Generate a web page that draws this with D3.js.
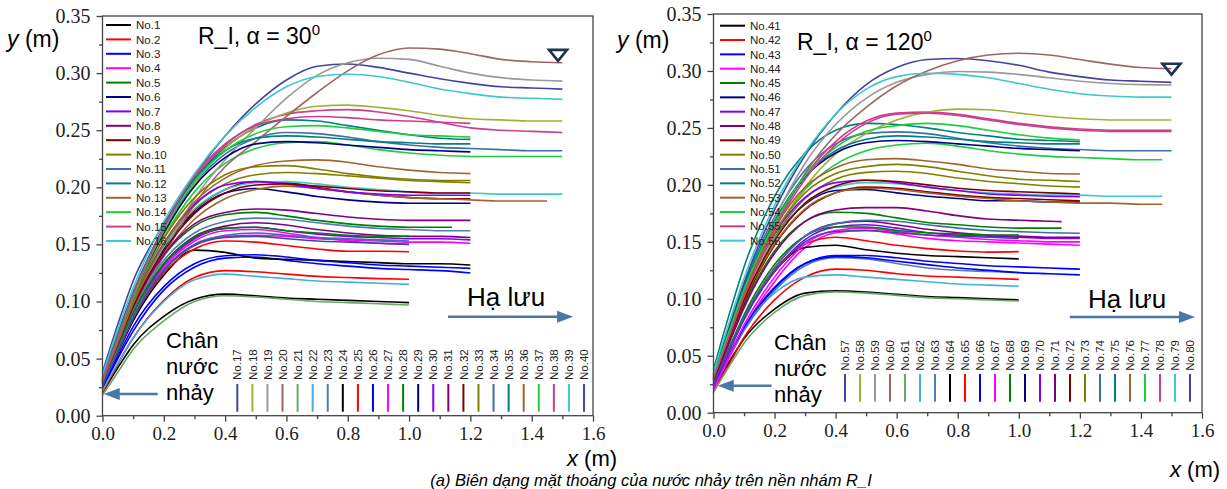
<!DOCTYPE html>
<html>
<head>
<meta charset="utf-8">
<script src="https://cdn.jsdelivr.net/npm/d3@7"></script>
<style>
  body { margin: 0; background: #fff; }
  svg { display: block; }
</style>
</head>
<body>
<svg id="chart" width="1227" height="489" font-family="'Liberation Sans', Arial, sans-serif"></svg>
<script>
// x stations (m) at which the profiles were read; a profile stops at its own end
const xGrid = [0, 0.05, 0.1, 0.2, 0.3, 0.4, 0.5, 0.6, 0.7, 0.8, 0.9, 1.0, 1.1, 1.2, 1.3, 1.4, 1.5]
const xTicks = [0, 0.2, 0.4, 0.6, 0.8, 1.0, 1.2, 1.4, 1.6]
const xMinor = [0.1, 0.3, 0.5, 0.7, 0.9, 1.1, 1.3, 1.5]
const yTicks = [0, 0.05, 0.1, 0.15, 0.2, 0.25, 0.3, 0.35]
const yMinor = [0.025, 0.075, 0.125, 0.175, 0.225, 0.275, 0.325]

// Origin style colour cycle (23 colours, No.24 starts again with black)
const colors = ['#000000', '#ff0000', '#0000ff', '#ff00ff', '#008000', '#000080', '#8000ff', '#800080',
	'#800000', '#808000', '#3d6fa8', '#008080', '#a0652a', '#1fcc3f', '#cc3d8f', '#3cc8cc',
	'#4444a0', '#a3b038', '#999999', '#9e6666', '#6aa86a', '#3fb0e0', '#4f7fb5']

// R_I, alpha = 30 : No.1 .. No.40
const namesA = d3.range(1, 41).map(i => 'No.' + i)
const endsA = [1.0, 1.0, 1.2, 1.0, 1.14, 1.2, 1.2, 1.2, 1.2, 1.2, 1.5, 1.2, 1.45, 1.5, 1.5, 1.5, 1.5, 1.5, 1.5, 1.5,
	1.0, 1.0, 1.2, 1.2, 1.0, 1.2, 1.2, 1.0, 1.2, 1.2, 1.2, 1.2, 1.2, 1.0, 1.2, 1.2, 1.2, 1.2, 1.5, 1.0]
const profilesA = [
	[.020, .042, .062, .087, .102, .1065, .105, .103, .102, .101, .100, .099],
	[.020, .045, .068, .101, .121, .127, .126, .124, .122, .121, .120, .1195],
	[.024, .050, .074, .110, .130, .138, .139, .136, .133, .131, .129, .128, .127, .125],
	[.027, .058, .088, .130, .153, .162, .163, .160, .156, .153, .151, .150],
	[.029, .062, .094, .140, .166, .176, .178, .175, .171, .168, .166, .165, .165, .165],
	[.030, .064, .097, .146, .178, .195, .199, .196, .192, .189, .187, .186, .186, .186],
	[.028, .059, .089, .132, .155, .164, .165, .162, .159, .157, .156, .155, .155, .154],
	[.028, .060, .090, .133, .157, .166, .169, .167, .163, .160, .158, .157, .157, .156],
	[.030, .064, .097, .147, .180, .198, .205, .204, .200, .196, .193, .191, .190, .190],
	[.030, .064, .097, .148, .184, .203, .211, .213, .212, .210, .208, .206, .205, .204],
	[.033, .070, .106, .162, .203, .229, .243, .248, .247, .244, .240, .237, .235, .234, .233, .232, .232],
	[.034, .072, .108, .165, .207, .235, .252, .259, .258, .254, .250, .246, .243, .242],
	[.029, .061, .093, .140, .172, .190, .198, .201, .199, .196, .193, .191, .190, .189, .188, .188, .188],
	[.031, .066, .101, .156, .196, .221, .234, .239, .240, .237, .233, .230, .228, .227, .227, .227, .227],
	[.032, .068, .104, .163, .208, .237, .255, .264, .267, .268, .266, .262, .257, .252, .250, .249, .248],
	[.031, .065, .098, .148, .181, .198, .204, .205, .203, .200, .198, .196, .195, .195, .194, .194, .194],
	[.038, .080, .118, .168, .210, .245, .273, .294, .306, .308, .305, .300, .295, .291, .288, .287, .286],
	[.031, .066, .101, .158, .203, .234, .253, .265, .271, .272, .270, .267, .263, .260, .259, .258, .258],
	[.028, .059, .090, .143, .190, .224, .252, .278, .298, .309, .313, .312, .306, .300, .296, .294, .293],
	[.028, .058, .088, .140, .185, .218, .240, .262, .283, .302, .316, .322, .321, .317, .312, .310, .309],
	[.018, .038, .058, .083, .100, .105, .104, .102, .100, .099, .098, .097],
	[.022, .046, .068, .100, .119, .124, .122, .120, .118, .117, .116, .115],
	[.029, .061, .092, .136, .160, .170, .173, .172, .169, .166, .164, .163, .162, .162],
	[.026, .055, .083, .123, .145, .143, .138, .137, .136, .135, .134, .133, .133, .132],
	[.026, .056, .085, .125, .146, .153, .152, .149, .146, .144, .144, .1436],
	[.025, .052, .078, .113, .133, .140, .141, .139, .136, .134, .132, .131, .130, .129],
	[.027, .057, .086, .128, .150, .157, .158, .157, .155, .154, .153, .152, .152, .151],
	[.028, .060, .090, .133, .156, .164, .165, .162, .160, .158, .157, .157],
	[.032, .068, .104, .160, .201, .226, .238, .240, .239, .237, .235, .233, .232, .231],
	[.031, .066, .100, .151, .185, .202, .205, .203, .199, .196, .194, .193, .193, .193],
	[.030, .063, .095, .141, .168, .178, .181, .180, .177, .174, .172, .171, .171, .171],
	[.030, .063, .096, .144, .177, .195, .202, .203, .201, .199, .197, .196, .195, .195],
	[.031, .066, .101, .155, .191, .211, .218, .219, .216, .212, .209, .207, .206, .206],
	[.027, .058, .087, .128, .150, .158, .160, .158, .156, .155, .154, .153],
	[.033, .070, .107, .165, .207, .232, .243, .245, .244, .242, .240, .239, .238, .238],
	[.030, .064, .098, .150, .187, .208, .219, .223, .224, .222, .218, .215, .213, .212],
	[.032, .068, .104, .162, .205, .232, .247, .253, .254, .252, .249, .246, .245, .244],
	[.032, .069, .106, .165, .210, .238, .254, .260, .262, .261, .259, .258, .257, .256],
	[.036, .076, .112, .170, .212, .245, .270, .288, .297, .299, .297, .292, .286, .282, .279, .278, .277],
	[.026, .056, .085, .127, .149, .156, .157, .155, .153, .152, .151, .150],
]

// R_I, alpha = 120 : No.41 .. No.80
const namesB = d3.range(41, 81).map(i => 'No.' + i)
const endsB = [1.0, 1.0, 1.2, 1.2, 1.14, 1.2, 1.2, 1.2, 1.2, 1.2, 1.5, 1.2, 1.47, 1.47, 1.5, 1.47, 1.5, 1.5, 1.5, 1.5,
	1.0, 1.0, 1.0, 1.0, 1.0, 1.2, 1.2, 1.0, 1.2, 1.2, 1.14, 1.2, 1.2, 1.2, 1.2, 1.2, 1.2, 1.5, 1.5, 1.0]
const profilesB = [
	[.020, .044, .065, .091, .105, .107, .106, .104, .102, .101, .100, .099],
	[.018, .042, .066, .099, .119, .126, .125, .122, .120, .119, .118, .117],
	[.022, .049, .074, .109, .131, .138, .138, .136, .133, .131, .129, .128, .127, .126],
	[.020, .047, .074, .115, .145, .158, .160, .157, .153, .151, .150, .149, .148, .147],
	[.028, .062, .094, .142, .168, .176, .175, .171, .167, .165, .163, .162, .162, .162],
	[.030, .066, .101, .153, .183, .195, .196, .193, .190, .188, .186, .186, .185, .185],
	[.024, .053, .082, .124, .152, .163, .165, .162, .158, .156, .155, .154, .153, .153],
	[.025, .055, .084, .127, .155, .166, .168, .165, .161, .158, .156, .155, .154, .154],
	[.028, .062, .096, .147, .178, .193, .198, .197, .194, .191, .189, .188, .187, .186],
	[.030, .066, .101, .154, .188, .205, .211, .212, .210, .206, .203, .201, .199, .198],
	[.034, .074, .113, .172, .213, .236, .245, .2465, .245, .241, .237, .234, .232, .231, .230, .230, .230],
	[.038, .085, .128, .190, .228, .248, .254, .253, .250, .246, .243, .240, .239, .238],
	[.029, .064, .098, .148, .179, .193, .197, .196, .193, .190, .188, .186, .185, .184, .184, .183, .183],
	[.030, .067, .103, .158, .196, .218, .230, .235, .2365, .234, .230, .227, .225, .224, .223, .222, .222],
	[.031, .068, .105, .164, .208, .238, .256, .263, .264, .262, .258, .254, .251, .249, .248, .248, .248],
	[.030, .066, .101, .152, .184, .198, .202, .201, .198, .195, .193, .192, .191, .191, .190, .190, .190],
	[.034, .074, .114, .178, .226, .262, .288, .303, .310, .311, .309, .305, .299, .295, .292, .291, .290],
	[.030, .065, .100, .156, .198, .227, .245, .257, .264, .2665, .266, .263, .260, .258, .257, .257, .257],
	[.032, .070, .108, .170, .219, .253, .276, .290, .297, .2995, .299, .297, .294, .291, .289, .288, .2877],
	[.030, .066, .102, .162, .210, .244, .268, .287, .300, .309, .314, .3155, .314, .310, .306, .303, .302],
	[.018, .040, .061, .088, .103, .106, .105, .103, .101, .100, .099, .098],
	[.022, .050, .075, .105, .119, .121, .119, .117, .115, .113, .112, .111],
	[.022, .048, .072, .107, .129, .136, .135, .131, .127, .125, .124, .123],
	[.025, .055, .084, .124, .145, .147, .143, .140, .138, .137, .136, .135],
	[.024, .054, .083, .125, .148, .154, .151, .147, .144, .142, .141, .1414],
	[.023, .050, .075, .110, .131, .137, .136, .133, .130, .127, .125, .123, .122, .121],
	[.021, .049, .077, .119, .148, .160, .162, .159, .156, .154, .152, .151, .150, .150],
	[.025, .056, .086, .130, .155, .163, .163, .160, .158, .157, .156, .156],
	[.033, .072, .110, .167, .207, .228, .237, .239, .238, .236, .234, .232, .231, .230],
	[.031, .068, .104, .157, .189, .202, .204, .202, .198, .195, .192, .191, .190, .1896],
	[.027, .060, .092, .140, .168, .178, .180, .180, .177, .173, .170, .169, .168, .1677],
	[.029, .064, .099, .151, .184, .199, .204, .203, .200, .197, .195, .194, .193, .192],
	[.031, .068, .104, .158, .193, .210, .216, .218, .216, .212, .208, .205, .204, .203],
	[.025, .055, .084, .127, .155, .166, .169, .168, .165, .162, .160, .159, .158, .1575],
	[.033, .072, .110, .168, .208, .230, .240, .243, .242, .240, .238, .237, .236, .236],
	[.032, .070, .107, .162, .198, .215, .222, .223, .221, .218, .214, .212, .210, .2096],
	[.032, .070, .108, .166, .208, .233, .247, .252, .254, .252, .248, .244, .241, .2394],
	[.030, .066, .102, .161, .205, .235, .254, .262, .263, .261, .257, .253, .250, .248, .247, .247, .247],
	[.036, .078, .118, .182, .228, .262, .284, .295, .298, .297, .294, .289, .284, .280, .278, .277, .277],
	[.024, .054, .082, .124, .150, .159, .160, .158, .156, .155, .154, .153],
]

const svg = d3.select('#chart')
const serif = "'Liberation Serif', 'Times New Roman', 'DejaVu Serif', serif"

function drawPanel(p) {
	const g = svg.append('g')
	const x = d3.scaleLinear().domain([0, 1.6]).range([p.left, p.right])
	const y = d3.scaleLinear().domain([0, 0.35]).range([p.bottom, p.top])
	const line = d3.line().x(d => x(d[0])).y(d => y(d[1])).curve(d3.curveMonotoneX)

	// profiles
	p.profiles.forEach((ys, i) => {
		const end = p.ends[i]
		const xs = xGrid.filter(v => v < end - 1e-9).concat([end])
		g.append('path')
			.attr('d', line(xs.map((v, k) => [v, ys[k]])))
			.attr('fill', 'none')
			.attr('stroke', colors[i % colors.length])
			.attr('stroke-width', 1.6)
	})

	// frame
	g.append('rect')
		.attr('x', p.left).attr('y', p.top)
		.attr('width', p.right - p.left).attr('height', p.bottom - p.top)
		.attr('fill', 'none').attr('stroke', '#444').attr('stroke-width', 1.3)

	// axes
	const ax = g.append('g').attr('transform', `translate(0,${p.bottom})`)
		.call(d3.axisBottom(x).tickValues(xTicks).tickFormat(d3.format('.1f')).tickSize(6).tickPadding(5))
	const axm = g.append('g').attr('transform', `translate(0,${p.bottom})`)
		.call(d3.axisBottom(x).tickValues(xMinor).tickFormat('').tickSize(3.5))
	const ay = g.append('g').attr('transform', `translate(${p.left},0)`)
		.call(d3.axisLeft(y).tickValues(yTicks).tickFormat(d3.format('.2f')).tickSize(6).tickPadding(6))
	const aym = g.append('g').attr('transform', `translate(${p.left},0)`)
		.call(d3.axisLeft(y).tickValues(yMinor).tickFormat('').tickSize(3.5))
	;[ax, axm, ay, aym].forEach(a => {
		a.attr('font-family', serif).attr('font-size', 19)
		a.select('.domain').remove()
		a.selectAll('line').attr('stroke', '#444').attr('stroke-width', 1.3)
		a.selectAll('text').attr('fill', '#222').attr('font-family', serif).attr('font-size', 19)
	})
	ay.selectAll('text').attr('font-size', 20)

	// axis titles
	const yt = g.append('text').attr('x', p.yTitle[0]).attr('y', p.yTitle[1]).attr('font-size', 23)
	yt.append('tspan').attr('font-style', 'italic').text('y')
	yt.append('tspan').text(' (m)')
	const xt = g.append('text').attr('x', p.xTitle[0]).attr('y', p.xTitle[1]).attr('font-size', 22)
	xt.append('tspan').attr('font-style', 'italic').text('x')
	xt.append('tspan').text(' (m)')

	// panel title
	const tt = g.append('text').attr('x', p.title[0]).attr('y', p.title[1]).attr('font-size', 23)
	tt.append('tspan').text(p.titleText)
	tt.append('tspan').attr('dy', -9).attr('font-size', 15).text('0')

	// legend No.1-16 (rows)
	p.names.slice(0, 16).forEach((n, i) => {
		const yy = p.legTop + i * p.legStep
		g.append('line').attr('x1', p.legX).attr('x2', p.legX + 25).attr('y1', yy).attr('y2', yy)
			.attr('stroke', colors[i % colors.length]).attr('stroke-width', 2)
		g.append('text').attr('x', p.legX + 30).attr('y', yy).attr('dy', '0.36em')
			.attr('font-size', 11.5).attr('fill', '#222').text(n)
	})

	// legend No.17-40 (vertical labels)
	const lx = d3.scaleLinear().domain([16, 39]).range(p.colRange)
	d3.range(16, 40).forEach(i => {
		const xx = lx(i)
		g.append('line').attr('x1', xx).attr('x2', xx).attr('y1', p.colLine[0]).attr('y2', p.colLine[1])
			.attr('stroke', colors[i % colors.length]).attr('stroke-width', 2)
		g.append('text').attr('transform', `translate(${xx},${p.colText}) rotate(-90)`).attr('dy', '0.36em')
			.attr('font-size', 11.5).attr('fill', '#222').text(p.names[i])
	})

	// annotations
	const arrow = (x1, x2, yv) => {
		const X1 = x(x1), X2 = x(x2), Y = y(yv)
		const dir = Math.sign(X2 - X1)
		g.append('line').attr('x1', X1).attr('x2', X2 - dir * 12).attr('y1', Y).attr('y2', Y)
			.attr('stroke', '#4a77aa').attr('stroke-width', 2.5)
		g.append('path').attr('d', `M${X2},${Y} L${X2 - dir * 16},${Y - 6} L${X2 - dir * 16},${Y + 6} Z`)
			.attr('fill', '#4a77aa')
	}
	arrow(p.footArrow[0], p.footArrow[1], p.footArrow[2])
	arrow(p.downArrow[0], p.downArrow[1], p.downArrow[2])
	p.footText.forEach((t, k) => {
		g.append('text').attr('x', p.footPos[0]).attr('y', p.footPos[1] + k * 26).attr('font-size', 22).text(t)
	})
	g.append('text').attr('x', p.downPos[0]).attr('y', p.downPos[1]).attr('font-size', 26).text('Hạ lưu')

	// water level mark
	const wx = x(p.water[0]), wy = y(p.water[1])
	g.append('path').attr('d', `M${wx - 9},${wy - 5} L${wx + 9},${wy - 5} L${wx},${wy + 6} Z`)
		.attr('fill', 'none').attr('stroke', '#1f3350').attr('stroke-width', 2.6).attr('stroke-linejoin', 'miter')
}

drawPanel({
	left: 102.5, right: 593, top: 16, bottom: 415.7,
	names: namesA, ends: endsA, profiles: profilesA,
	yTitle: [7, 47], xTitle: [567, 465.5],
	title: [198, 44], titleText: 'R_I, α = 30',
	legX: 106, legTop: 25, legStep: 14.4,
	colRange: [237.3, 584], colLine: [384, 411.7], colText: 380,
	footArrow: [0.18, 0.004, 0.019], downArrow: [1.127, 1.535, 0.0867],
	footText: ['Chân', 'nước', 'nhảy'], footPos: [166, 348],
	downPos: [467, 306], water: [1.486, 0.316],
})

drawPanel({
	left: 713.5, right: 1202, top: 14, bottom: 412.7,
	names: namesB, ends: endsB, profiles: profilesB,
	yTitle: [617, 48], xTitle: [1170, 477],
	title: [797, 50], titleText: 'R_I, α = 120',
	legX: 720, legTop: 25.7, legStep: 14.33,
	colRange: [845, 1190], colLine: [374, 401.7], colText: 370.7,
	footArrow: [0.19, 0.014, 0.0237], downArrow: [1.167, 1.577, 0.084],
	footText: ['Chân', 'nước', 'nhảy'], footPos: [774, 350],
	downPos: [1088, 308], water: [1.5, 0.302],
})

// caption, kept inside the bottom edge
svg.append('text').attr('x', 651).attr('y', 485.5).attr('text-anchor', 'middle')
	.attr('font-size', 16.5).attr('font-style', 'italic')
	.text('(a) Biên dạng mặt thoáng của nước nhảy trên nền nhám R_I')
</script>
</body>
</html>
